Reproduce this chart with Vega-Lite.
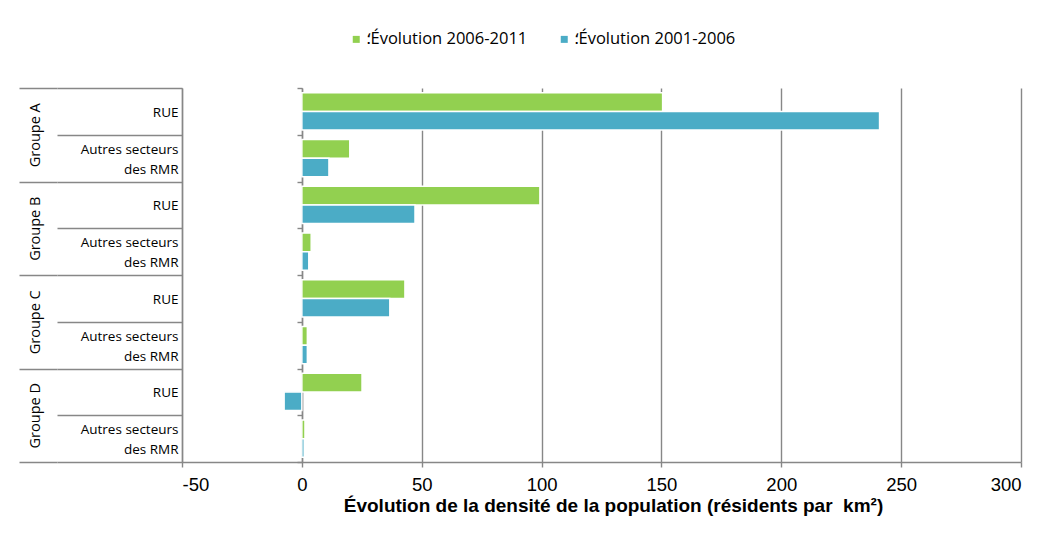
{
  "$schema": "https://vega.github.io/schema/vega-lite/v6.json",
  "width": 839,
  "height": 374,
  "autosize": {"type": "none"},
  "padding": {"left": 182, "top": 88, "right": 32, "bottom": 92},
  "background": "white",
  "config": {"view": {"stroke": null}},
  "data": {
    "values": [
      {"groupe": "Groupe A", "ligne": "A|RUE", "serie": "Évolution 2006-2011", "valeur": 150.5},
      {"groupe": "Groupe A", "ligne": "A|RUE", "serie": "Évolution 2001-2006", "valeur": 241},
      {"groupe": "Groupe A", "ligne": "A|Autres secteurs|des RMR", "serie": "Évolution 2006-2011", "valeur": 20},
      {"groupe": "Groupe A", "ligne": "A|Autres secteurs|des RMR", "serie": "Évolution 2001-2006", "valeur": 11.3},
      {"groupe": "Groupe B", "ligne": "B|RUE", "serie": "Évolution 2006-2011", "valeur": 99.3},
      {"groupe": "Groupe B", "ligne": "B|RUE", "serie": "Évolution 2001-2006", "valeur": 47.2},
      {"groupe": "Groupe B", "ligne": "B|Autres secteurs|des RMR", "serie": "Évolution 2006-2011", "valeur": 3.9},
      {"groupe": "Groupe B", "ligne": "B|Autres secteurs|des RMR", "serie": "Évolution 2001-2006", "valeur": 2.9},
      {"groupe": "Groupe C", "ligne": "C|RUE", "serie": "Évolution 2006-2011", "valeur": 43},
      {"groupe": "Groupe C", "ligne": "C|RUE", "serie": "Évolution 2001-2006", "valeur": 36.7},
      {"groupe": "Groupe C", "ligne": "C|Autres secteurs|des RMR", "serie": "Évolution 2006-2011", "valeur": 2.3},
      {"groupe": "Groupe C", "ligne": "C|Autres secteurs|des RMR", "serie": "Évolution 2001-2006", "valeur": 2.3},
      {"groupe": "Groupe D", "ligne": "D|RUE", "serie": "Évolution 2006-2011", "valeur": 25.1},
      {"groupe": "Groupe D", "ligne": "D|RUE", "serie": "Évolution 2001-2006", "valeur": -7.4},
      {"groupe": "Groupe D", "ligne": "D|Autres secteurs|des RMR", "serie": "Évolution 2006-2011", "valeur": 1.3},
      {"groupe": "Groupe D", "ligne": "D|Autres secteurs|des RMR", "serie": "Évolution 2001-2006", "valeur": 1.0}
    ]
  },
  "layer": [
    {
      "mark": {"type": "bar", "stroke": "white", "strokeWidth": 1.5},
      "encoding": {
        "y": {
          "field": "ligne",
          "type": "nominal",
          "sort": null,
          "scale": {"paddingInner": 0, "paddingOuter": 0},
          "axis": {
            "orient": "left",
            "title": null,
            "grid": false,
            "domain": true,
            "domainColor": "#878787",
            "domainWidth": 1.4,
            "ticks": true,
            "tickBand": "extent",
            "tickSize": 125,
            "tickColor": "#878787",
            "tickWidth": 1.4,
            "labelExpr": "length(split(datum.value, '|')) > 2 ? [split(datum.value, '|')[1], '\u2800', split(datum.value, '|')[2]] : ['\u00a0', split(datum.value, '|')[1]]",
            "labelPadding": -121,
            "labelOffset": -9,
            "labelAlign": "right",
            "labelBaseline": "middle",
            "labelFont": "Open Sans",
            "labelFontSize": 13.5,
            "labelLineHeight": 10,
            "labelColor": "#000000"
          }
        },
        "yOffset": {
          "field": "serie",
          "type": "nominal",
          "sort": ["Évolution 2006-2011", "Évolution 2001-2006"],
          "scale": {"paddingInner": 0, "paddingOuter": 0.26}
        },
        "x": {
          "field": "valeur",
          "type": "quantitative",
          "scale": {"domain": [-50, 300], "nice": false, "zero": false},
          "axis": {
            "values": [-50, 0, 50, 100, 150, 200, 250, 300],
            "labelExpr": "toString(datum.value)",
            "grid": true,
            "gridColor": "#878787",
            "gridWidth": 1.4,
            "domain": true,
            "domainColor": "#878787",
            "domainWidth": 1.4,
            "ticks": true,
            "tickSize": 5,
            "tickColor": "#878787",
            "tickWidth": 1.4,
            "labelFont": "Liberation Sans",
            "labelFontSize": 18.5,
            "labelColor": "#000000",
            "labelPadding": 8,
            "title": "Évolution de la densité de la population (résidents par\u00a0 km²)",
            "titleFont": "Liberation Sans",
            "titleFontSize": 19,
            "titleFontWeight": "bold",
            "titleColor": "#000000",
            "titlePadding": 3,
            "titleX": 431
          }
        },
        "color": {
          "field": "serie",
          "type": "nominal",
          "scale": {
            "domain": ["Évolution 2006-2011", "Évolution 2001-2006"],
            "range": ["#92D050", "#4BACC6"]
          },
          "legend": {
            "title": null,
            "orient": "none",
            "direction": "horizontal",
            "columns": 2,
            "legendX": 166,
            "legendY": -57,
            "padding": 0,
            "symbolType": "square",
            "symbolSize": 49,
            "symbolStrokeWidth": 0,
            "labelExpr": "'؛' + datum.label",
            "labelFont": "Open Sans",
            "labelFontSize": 16.5,
            "labelLimit": 400,
            "labelColor": "#000000",
            "labelOffset": 1,
            "columnPadding": 28
          }
        }
      }
    },
    {
      "mark": {"type": "text", "opacity": 0},
      "encoding": {
        "y": {
          "field": "groupe",
          "type": "nominal",
          "sort": null,
          "scale": {"paddingInner": 0, "paddingOuter": 0},
          "axis": {
            "orient": "left",
            "offset": 125,
            "title": null,
            "grid": false,
            "domain": false,
            "ticks": true,
            "tickBand": "extent",
            "tickSize": 38,
            "tickColor": "#878787",
            "tickWidth": 1.4,
            "labelAngle": 270,
            "labelAlign": "center",
            "labelBaseline": "middle",
            "labelPadding": -16,
            "labelFont": "Open Sans",
            "labelFontSize": 14.5,
            "labelColor": "#000000"
          }
        },
        "text": {"value": ""}
      }
    },
    {
      "mark": {"type": "rule", "color": "#878787", "strokeWidth": 1.4},
      "encoding": {
        "x": {"datum": 0, "type": "quantitative"},
        "y": {
          "field": "ligne",
          "type": "nominal",
          "sort": null,
          "scale": {"paddingInner": 0, "paddingOuter": 0},
          "axis": {
            "orient": "left",
            "offset": -120,
            "title": null,
            "grid": false,
            "labels": false,
            "domain": true,
            "domainColor": "#878787",
            "domainWidth": 1.4,
            "ticks": true,
            "tickBand": "extent",
            "tickSize": 5,
            "tickColor": "#878787",
            "tickWidth": 1.4
          }
        }
      }
    }
  ],
  "resolve": {"scale": {"y": "independent"}, "axis": {"y": "independent"}}
}
